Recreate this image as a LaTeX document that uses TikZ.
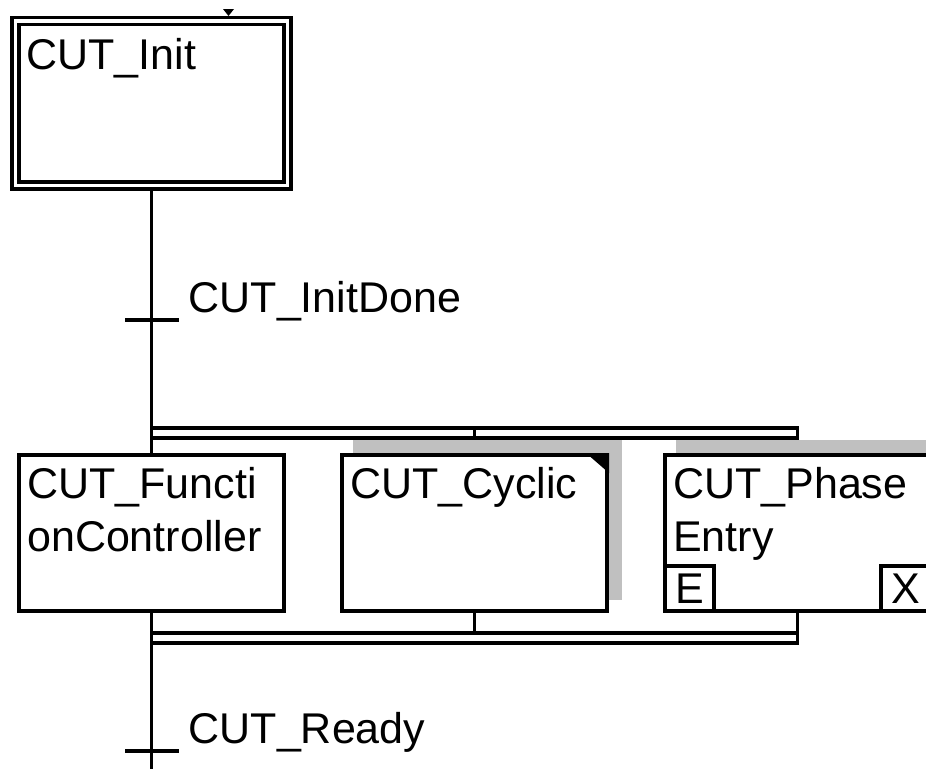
\documentclass[tikz,border=0pt]{standalone}
\usepackage{fontspec}
\setmainfont{Liberation Sans}
\usetikzlibrary{positioning, backgrounds, calc}
\definecolor{ink}{HTML}{000000}
\definecolor{shade}{HTML}{C0C0C0}
\newcommand{\steptext}{\fontsize{43}{53}\selectfont}
\tikzset{
  stepbox/.style  ={draw=ink, line width=4pt, fill=white, outer sep=0pt, inner sep=0pt,
                    minimum width=265pt, minimum height=156pt},
  initbox/.style  ={stepbox, line width=3.5pt, double=white, double distance=3.5pt,
                    outer sep=5.25pt, minimum width=272pt, minimum height=164.5pt},
  portbox/.style  ={draw=ink, line width=4pt, outer sep=0pt, inner sep=0pt,
                    minimum width=49pt, minimum height=45pt, font=\steptext},
  steplabel/.style={anchor=north west, inner sep=0pt, align=left, font=\steptext},
  guard/.style    ={anchor=base west, inner sep=0pt, font=\steptext},
  transbar/.style ={fill=ink, inner sep=0pt, outer sep=0pt, minimum width=54pt,
                    minimum height=3.7pt},
  simbar/.style   ={draw=ink, line width=3.6pt, outer sep=0pt, inner sep=0pt,
                    minimum width=646pt, minimum height=10pt, anchor=west},
  wire/.style     ={draw=ink, line width=3.4pt},
  dropshade/.style={fill=shade}
}

\begin{document}
\begin{tikzpicture}[x=1pt, y=-1pt, node distance=58pt]
  \useasboundingbox (0,0) rectangle (926,769);
  \clip (0,0) rectangle (926,769);

  \node[initbox] (init) at (151.5,103.25) {};
  \node[transbar] (t1) at (151.5,320) {};
  \node[simbar] (split) at (151.5,433) {};
  \node[stepbox] (fc) at (151.5,533) {};
  \node[stepbox, right=of fc] (cyclic) {};
  \node[stepbox, right=of cyclic] (phase) {};
  \node[portbox, anchor=south west] (entryport) at (phase.south west) {E};
  \node[portbox, anchor=south east] (exitport) at (phase.south east) {X};
  \node[simbar] (join) at (151.5,638) {};
  \node[transbar] (t2) at (151.5,751) {};
  \coordinate (out) at (151.5,769);

  \node[steplabel] (initname)   at ([shift={(16,22)}]init.north west) {CUT\_Init};
  \node[guard]     (initdone)   at ([shift={(10,-8)}]t1.east) {CUT\_InitDone};
  \node[steplabel] (fcname)     at ([shift={(8,12)}]fc.north west) {CUT\_Functi\\onController};
  \node[steplabel] (cyclicname) at ([shift={(8,12)}]cyclic.north west) {CUT\_Cyclic};
  \node[steplabel] (phasename)  at ([shift={(8,12)}]phase.north west) {CUT\_Phase\\Entry};
  \node[guard]     (ready)      at ([shift={(10,-8)}]t2.east) {CUT\_Ready};

  \begin{scope}[on background layer]
    \fill[dropshade] ([shift={(11,-11)}]cyclic.south west) rectangle ([shift={(15,-15)}]cyclic.north east);
    \fill[dropshade] ([shift={(11,-11)}]phase.south west) rectangle ([shift={(15,-15)}]phase.north east);
  \end{scope}
  \fill[ink] ([shift={(2,-2)}]cyclic.north east) -- ++(-23,0) -- ++(23,20) -- cycle;
  \fill[ink] (223,9) -- (234,9) -- (228.5,16) -- cycle;

  \draw[wire] (init) -- (t1) -- (fc);
  \draw[wire] (fc) -- (t2) -- (out);
  \draw[wire] (cyclic.north |- split.north) -- (cyclic.north |- split.south);
  \draw[wire] (cyclic.south) -- (cyclic.south |- join.north);
  \draw[wire] (phase.south) -- (phase.south |- join.north);
\end{tikzpicture}
\end{document}
